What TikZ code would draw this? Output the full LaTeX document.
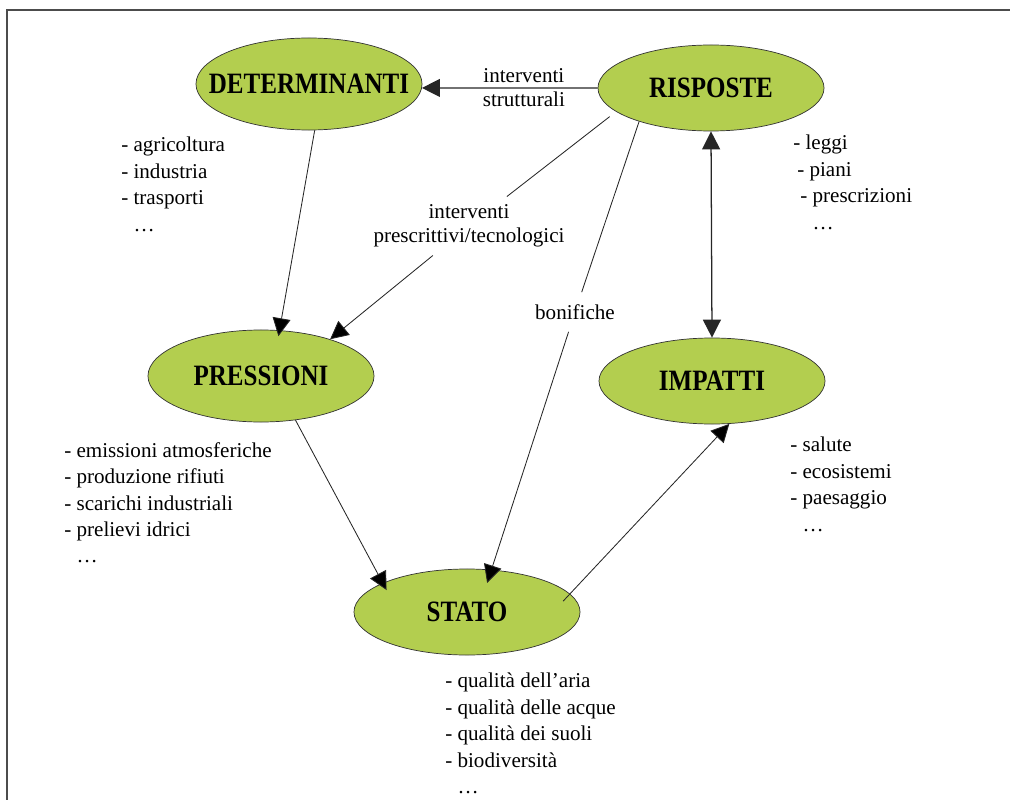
\documentclass[tikz,border=0pt]{standalone}
\usepackage{fontspec}
\usepackage{graphicx}
\setmainfont{Liberation Serif}
\usetikzlibrary{arrows.meta,shapes.geometric,positioning}
\definecolor{phasegreen}{RGB}{179,206,79}

\begin{document}
\begin{tikzpicture}[x=0.025cm,y=-0.025cm,>={Triangle[length=4.5mm,width=4.5mm]},
    phase/.style={ellipse,draw=black!80,line width=0.5pt,fill=phasegreen,
      minimum width=5.65cm,minimum height=2.15cm,
      label={[font=\fontsize{17.8}{20}\selectfont\bfseries]center:{\scalebox{1}[1.18]{#1}}}},
    link/.style={draw=black!85,line width=0.6pt},
    cue/.style={font=\fontsize{15}{17}\selectfont,align=center,inner sep=2mm},
    items/.style={font=\fontsize{15}{18.8}\selectfont,align=left,inner sep=0pt,anchor=north west}]
    \useasboundingbox (0,0) rectangle (1010,800);
    \draw[black!70,line width=0.8pt] (7,800) -- (7,10) -- (1010,10);

    \node[phase=DETERMINANTI,minimum height=2.3cm] (DET) at (309,84) {};
    \node[phase=RISPOSTE] (RIS) at (711,88) {};
    \node[phase=PRESSIONI,minimum height=2.3cm] (PRES) at (261,376) {};
    \node[phase=IMPATTI] (IMP) at (712,381) {};
    \node[phase=STATO] (STATO) at (467,612) {};

    \node[cue] (TEC) at (469,226) {interventi\\prescrittivi/tecnologici};
    \node[cue,inner sep=3mm] (BON) at (575,312) {bonifiche};

    \node[items] (DETITEMS) at (121,137) {- agricoltura\\- industria\\- trasporti\\\phantom{- }\ldots};
    \node[items] (RISITEMS) at (793,135) {- leggi\\\hspace*{1mm}- piani\\\hspace*{1.75mm}- prescrizioni\\\hspace*{1.75mm}\phantom{- }\ldots};
    \node[items] (PRESITEMS) at (64,442) {- emissioni atmosferiche\\- produzione rifiuti\\- scarichi industriali\\- prelievi idrici\\\phantom{- }\ldots};
    \node[items] (IMPITEMS) at (790,437) {- salute\\- ecosistemi\\- paesaggio\\\phantom{- }\ldots};
    \node[items] (STATOITEMS) at (445,673) {- qualità dell’aria\\- qualità delle acque\\- qualità dei suoli\\- biodiversità\\\phantom{- }\ldots};

    \draw[link,->,line width=0.9pt] (RIS.west) -- (DET.-2)
      node[pos=0.42,cue,inner sep=0pt] {interventi\\strutturali};
    \draw[link,<->,line width=0.9pt] (RIS.south) -- (IMP.north);

    \draw[link] (DET.-83) edge[->,shorten >=-1.5mm] (PRES.68)
      (PRES.-52) edge[->,shorten >=-2mm] (STATO.161)
      (STATO.10) edge[->,shorten <=-2.5mm] (IMP.-68)
      (TEC) edge[->] (PRES.28)
      (BON) edge[->,shorten >=-3.5mm] (STATO.60);

    \draw[link] (RIS.194) edge[shorten <=2mm] (TEC)
      (RIS.205) edge (BON);
\end{tikzpicture}
\end{document}
